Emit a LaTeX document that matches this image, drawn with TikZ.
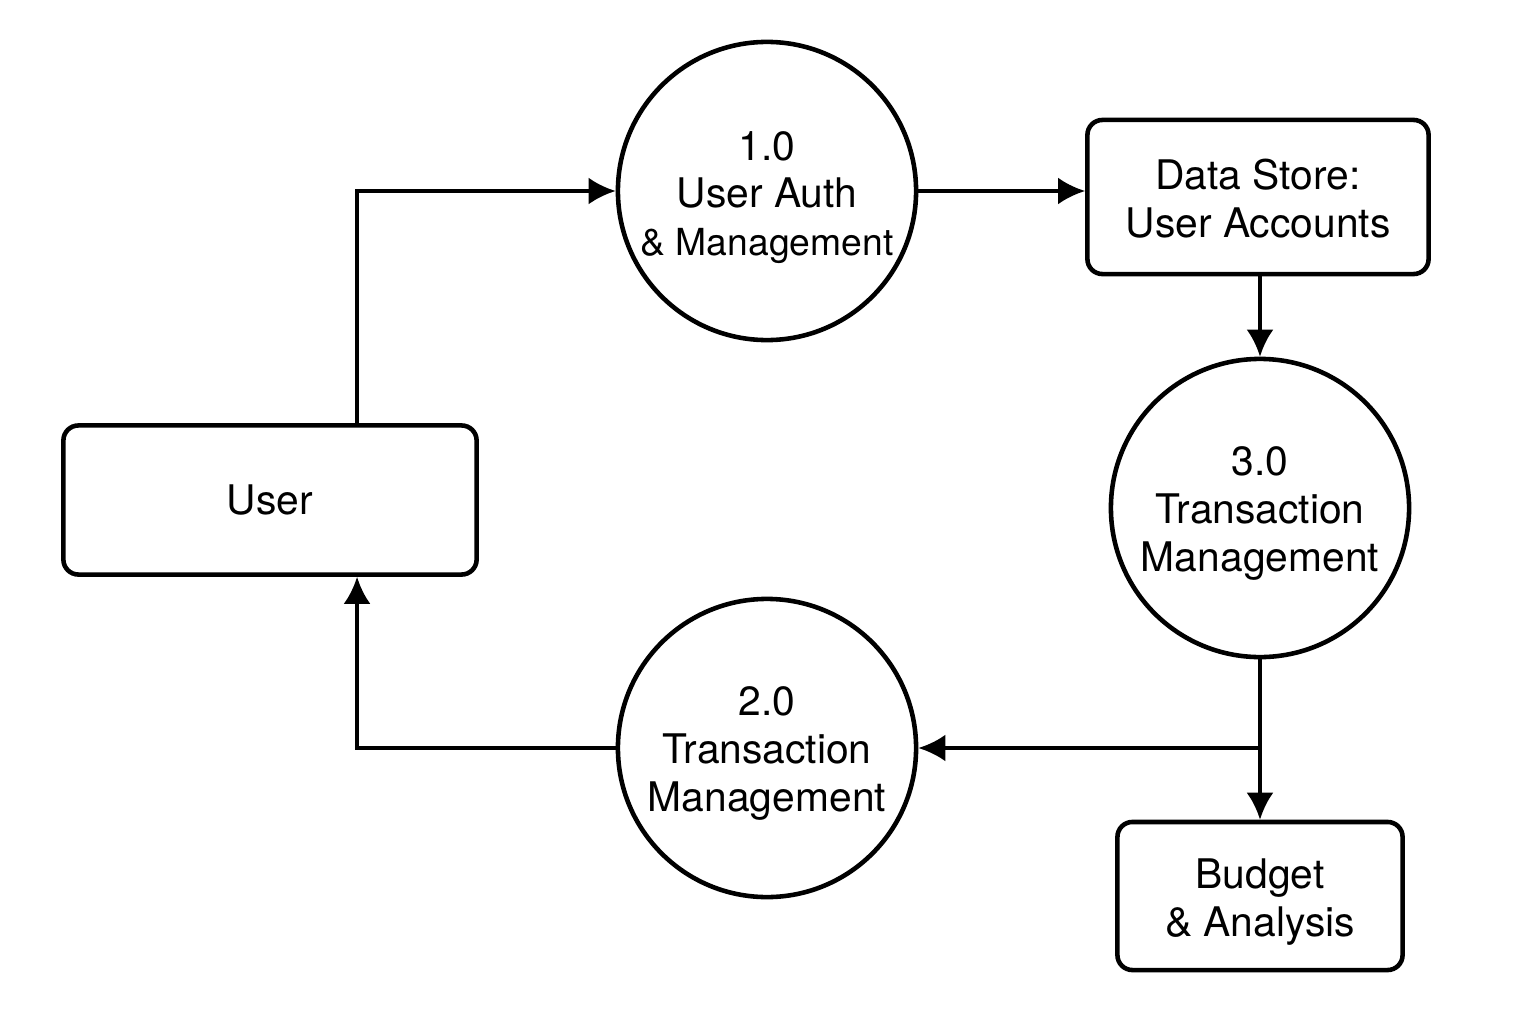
\documentclass[tikz,border=0pt]{standalone}
\usepackage{fontspec}
\setmainfont{TeX Gyre Heros}
\usetikzlibrary{shapes, arrows.meta, positioning}
\tikzstyle{block} = [draw, fill=white, rectangle, rounded corners=0.15cm, line width=1.3pt, align=center]
\tikzstyle{process} = [draw, fill=white, circle, minimum size=2.98cm, inner sep=0pt, line width=1.3pt, align=center]
\newcommand{\padtop}[1]{\rule{0pt}{#1}}

\begin{document}
\begin{tikzpicture}[x=0.01cm, y=-0.01cm, >={Latex[length=0.27cm,width=0.27cm]}, line width=1.1pt, font=\fontsize{11.6}{13.6}\selectfont]
  \useasboundingbox (0,0) rectangle (1536,1024);
  \node[block, minimum width=4.13cm, minimum height=1.49cm] (user) at (270,500) {User};
  \node[process] (P1) at (767,191) {\padtop{0.42cm}1.0\\User Auth\\{\fontsize{10.6}{13.6}\selectfont\& Management}};
  \node[block, minimum width=3.41cm, minimum height=1.54cm] (store) at (1258,197) {\padtop{0.33cm}Data Store:\\User Accounts};
  \node[process] (P3) at (1260,508) {\padtop{0.40cm}3.0\\Transaction\\Management};
  \node[process] (P2) at (767,748) {\padtop{0.40cm}2.0\\Transaction\\Management};
  \node[block, minimum width=2.85cm, minimum height=1.48cm] (budget) at (1260,896) {\padtop{0.42cm}Budget\\\& Analysis};
  \coordinate (split) at (P3.south |- P2.east);
  \draw[->] ([xshift=0.87cm]user.north) |- (P1.west);
  \draw[->] (P1.east) -- (P1.east -| store.west);
  \draw[->] (P3.north |- store.south) -- (P3.north);
  \draw[->] (P3.south) -- (budget.north);
  \draw[->] (split) -- (P2.east);
  \draw[->] (P2.west) -| ([xshift=0.87cm]user.south);
\end{tikzpicture}
\end{document}
